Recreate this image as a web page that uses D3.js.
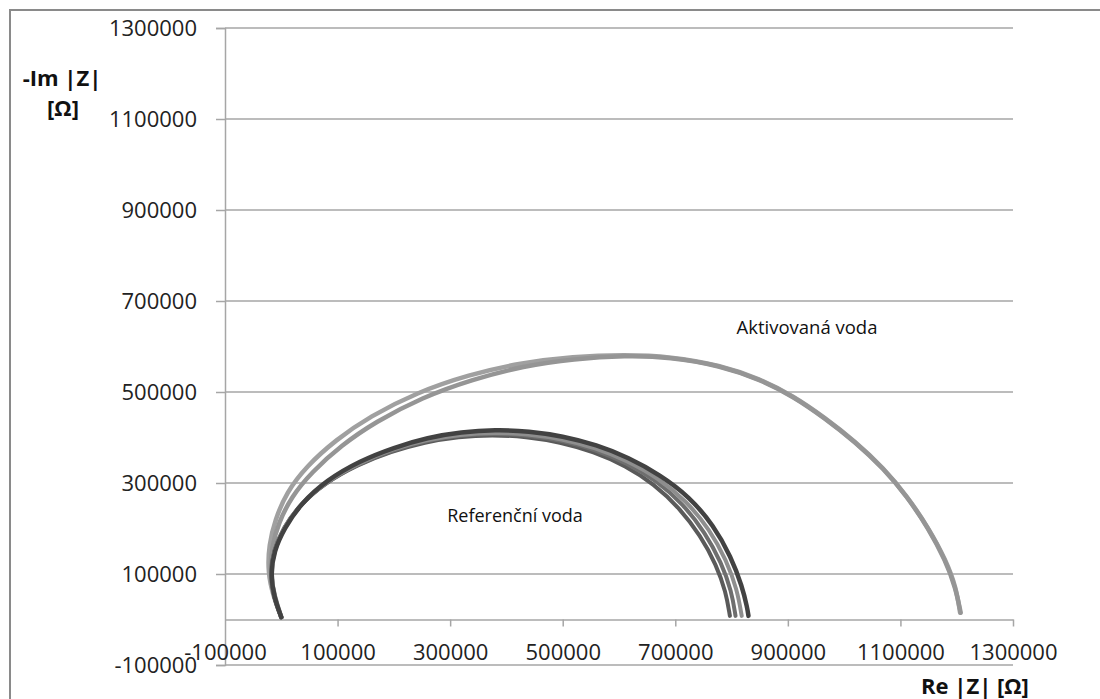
<!DOCTYPE html>
<html>
<head>
<meta charset="utf-8">
<script src="https://cdn.jsdelivr.net/npm/d3@7"></script>
<style>
  body { margin: 0; background: #fff; }
  .tick text { font-family: "Open Sans", sans-serif; fill: #222; }
</style>
</head>
<body>
<div class="chart"></div>
<script>
// axis ticks
var xTicks = [-100000, 100000, 300000, 500000, 700000, 900000, 1100000, 1300000];
var yTicks = [-100000, 100000, 300000, 500000, 700000, 900000, 1100000, 1300000];

// Referenční voda (4 measurements) [Re, -Im]
var ref1 = [[0,5000],[-14000,50000],[-20000,100000],[-14000,150000],[3000,200000],[32000,250000],[75000,298000],[135000,340000],[195000,369000],[255000,390000],[315000,402000],[375000,406000],[435000,402000],[495000,390000],[555000,369000],[612000,338000],[662000,298000],[707000,246000],[745000,184000],[773000,120000],[790000,60000],[797000,8000]];
var ref2 = [[0,5000],[-14000,50000],[-20000,101000],[-14000,152000],[4000,203000],[33000,252000],[77000,300000],[137000,342000],[197000,372000],[257000,393000],[317000,405000],[377000,409000],[437000,405000],[497000,394000],[557000,374000],[614000,344000],[667000,305000],[714000,254000],[753000,191000],[782000,125000],[800000,62000],[807000,8000]];
var ref3 = [[0,5000],[-13000,50000],[-19000,101000],[-13000,152000],[5000,204000],[34000,254000],[78000,302000],[138000,344000],[198000,375000],[258000,395000],[318000,407000],[378000,411000],[438000,408000],[498000,397000],[558000,378000],[615000,349000],[670000,311000],[720000,260000],[761000,198000],[791000,130000],[810000,65000],[818000,8000]];
var ref4 = [[0,5000],[-13000,50000],[-19000,100000],[-13000,150000],[5000,200000],[35000,255000],[80000,306000],[140000,349000],[200000,378000],[260000,400000],[320000,412000],[380000,417000],[440000,414000],[500000,403000],[560000,384000],[617000,356000],[673000,318000],[725000,270000],[768000,207000],[799000,138000],[819000,72000],[828000,25000],[830000,8000]];

// Aktivovaná voda (2 measurements)
var act1 = [[0,5000],[-12000,50000],[-20000,103000],[-17000,160000],[-5000,212000],[18000,270000],[54000,324000],[107000,383000],[167000,434000],[250000,488000],[340000,528000],[430000,557000],[520000,573000],[611000,580000],[691000,577000],[780000,558000],[850000,528000],[910000,490000],[965000,443000],[1020000,390000],[1070000,332000],[1112000,270000],[1150000,200000],[1180000,130000],[1198000,70000],[1207000,15000]];
var act2 = [[0,5000],[-14000,50000],[-24000,104000],[-22000,164000],[-11000,219000],[9000,279000],[44000,336000],[97000,395000],[157000,446000],[241000,499000],[333000,538000],[425000,564000],[518000,578000],[611000,582000],[691000,578000],[780000,559000],[850000,529000],[910000,491000],[965000,444000],[1020000,391000],[1070000,333000],[1112000,271000],[1150000,201000],[1181000,130000],[1199000,70000],[1206000,15000]];

var series = [
  { pts: act2, color: "#a0a0a0", w: 4.5 },
  { pts: act1, color: "#959595", w: 4.5 },
  { pts: ref1, color: "#5a5a5a", w: 4 },
  { pts: ref2, color: "#6e6e6e", w: 4 },
  { pts: ref3, color: "#8e8e8e", w: 4 },
  { pts: ref4, color: "#424242", w: 4.5 }
];

var width = 1100, height = 699;

var svg = d3.select(".chart")
  .append("svg")
  .attr("width", width)
  .attr("height", height);

// outer frame (left + top)
svg.append("path")
  .attr("d", "M10,699 L10,10 L1100,10")
  .attr("fill", "none")
  .attr("stroke", "#8a8a8a")
  .attr("stroke-width", 2);

var x = d3.scaleLinear().domain([-100000, 1300000]).range([225, 1013]);
var y = d3.scaleLinear().domain([-100000, 1300000]).range([665, 28]);

// horizontal gridlines
svg.append("g")
  .selectAll("line")
  .data(yTicks)
  .enter()
  .append("line")
  .attr("x1", x(-100000))
  .attr("x2", x(1300000))
  .attr("y1", d => y(d))
  .attr("y2", d => y(d))
  .attr("stroke", "#a6a6a6")
  .attr("stroke-width", 1.5);

// y axis
var yAxis = d3.axisLeft(y)
  .tickValues(yTicks)
  .tickSize(9)
  .tickPadding(19)
  .tickFormat(d => String(d));

svg.append("g")
  .attr("transform", "translate(" + x(-100000) + ",0)")
  .call(yAxis)
  .call(g => g.select(".domain").attr("stroke", "#a6a6a6").attr("stroke-width", 1.5))
  .call(g => g.selectAll(".tick line").attr("stroke", "#a6a6a6").attr("stroke-width", 1.5))
  .call(g => g.selectAll(".tick text").attr("font-size", 22));

// x axis at -Im = 0
var xAxis = d3.axisBottom(x)
  .tickValues(xTicks)
  .tickSize(7)
  .tickSizeOuter(0)
  .tickPadding(18)
  .tickFormat(d => String(d));

svg.append("g")
  .attr("transform", "translate(0," + y(0) + ")")
  .call(xAxis)
  .call(g => g.select(".domain").attr("stroke", "#a6a6a6").attr("stroke-width", 1.5))
  .call(g => g.selectAll(".tick line").attr("stroke", "#a6a6a6").attr("stroke-width", 1.5))
  .call(g => g.selectAll(".tick line").filter(d => d === -100000).remove())
  .call(g => g.selectAll(".tick text").attr("font-size", 22));

// curves
var line = d3.line()
  .x(d => x(d[0]))
  .y(d => y(d[1]))
  .curve(d3.curveBasis);

svg.append("g")
  .selectAll("path")
  .data(series)
  .enter()
  .append("path")
  .attr("d", d => line(d.pts))
  .attr("fill", "none")
  .attr("stroke", d => d.color)
  .attr("stroke-width", d => d.w)
  .attr("stroke-linecap", "round")
  .attr("stroke-linejoin", "round");

// labels
svg.append("text")
  .attr("x", 515).attr("y", 522)
  .attr("text-anchor", "middle")
  .attr("font-family", "Open Sans, sans-serif")
  .attr("font-size", 18)
  .attr("fill", "#111")
  .text("Referenční voda");

svg.append("text")
  .attr("x", 807).attr("y", 334)
  .attr("text-anchor", "middle")
  .attr("font-family", "Open Sans, sans-serif")
  .attr("font-size", 18.5)
  .attr("fill", "#111")
  .text("Aktivovaná voda");

// axis titles
svg.append("text")
  .attr("x", 62).attr("y", 86)
  .attr("text-anchor", "middle")
  .attr("font-family", "Open Sans, sans-serif")
  .attr("font-weight", "bold")
  .attr("font-size", 22)
  .attr("fill", "#111")
  .text("-Im |Z|");

svg.append("text")
  .attr("x", 63).attr("y", 116)
  .attr("text-anchor", "middle")
  .attr("font-family", "Open Sans, sans-serif")
  .attr("font-weight", "bold")
  .attr("font-size", 22)
  .attr("fill", "#111")
  .text("[Ω]");

svg.append("text")
  .attr("x", 975).attr("y", 694)
  .attr("text-anchor", "middle")
  .attr("font-family", "Open Sans, sans-serif")
  .attr("font-weight", "bold")
  .attr("font-size", 22)
  .attr("fill", "#111")
  .text("Re |Z| [Ω]");
</script>
</body>
</html>
